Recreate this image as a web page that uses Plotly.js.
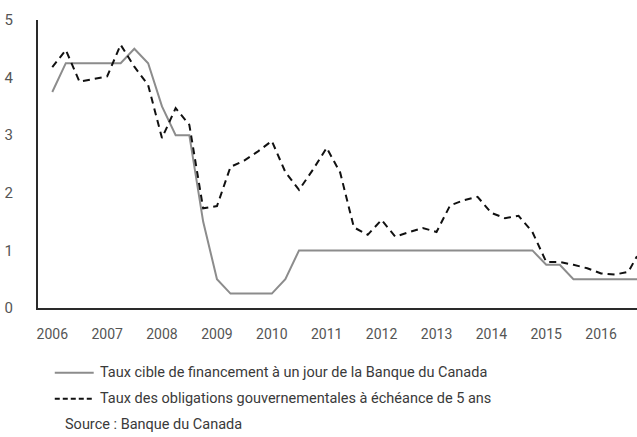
<!DOCTYPE html>
<html>
<head>
<meta charset="utf-8">
<script src="https://cdn.plot.ly/plotly-3.0.1.min.js"></script>
<style>
  html, body { margin: 0; padding: 0; background: #fff; }
  #chart { width: 637px; height: 437px; }
</style>
</head>
<body>
<div id="chart"></div>
<script>
/* global Plotly */

// quarterly observations, plus the last reading of the series
const dates = [
    '2006-01-01', '2006-04-01', '2006-07-01', '2006-10-01',
    '2007-01-01', '2007-04-01', '2007-07-01', '2007-10-01',
    '2008-01-01', '2008-04-01', '2008-07-01', '2008-10-01',
    '2009-01-01', '2009-04-01', '2009-07-01', '2009-10-01',
    '2010-01-01', '2010-04-01', '2010-07-01', '2010-10-01',
    '2011-01-01', '2011-04-01', '2011-07-01', '2011-10-01',
    '2012-01-01', '2012-04-01', '2012-07-01', '2012-10-01',
    '2013-01-01', '2013-04-01', '2013-07-01', '2013-10-01',
    '2014-01-01', '2014-04-01', '2014-07-01', '2014-10-01',
    '2015-01-01', '2015-04-01', '2015-07-01', '2015-10-01',
    '2016-01-01', '2016-04-01', '2016-07-01', '2016-08-27'
];

const tauxCible = [
    3.75, 4.25, 4.25, 4.25,
    4.25, 4.25, 4.5, 4.25,
    3.5, 3.0, 3.0, 1.5,
    0.5, 0.25, 0.25, 0.25,
    0.25, 0.5, 1.0, 1.0,
    1.0, 1.0, 1.0, 1.0,
    1.0, 1.0, 1.0, 1.0,
    1.0, 1.0, 1.0, 1.0,
    1.0, 1.0, 1.0, 1.0,
    0.75, 0.75, 0.5, 0.5,
    0.5, 0.5, 0.5, 0.5
];

const taux5ans = [
    4.18, 4.48, 3.93, 3.98,
    4.02, 4.57, 4.19, 3.87,
    2.95, 3.47, 3.18, 1.73,
    1.77, 2.45, 2.56, 2.72,
    2.9, 2.36, 2.05, 2.4,
    2.78, 2.35, 1.4, 1.27,
    1.53, 1.24, 1.32, 1.39,
    1.32, 1.78, 1.87, 1.93,
    1.65, 1.56, 1.6, 1.32,
    0.8, 0.8, 0.75, 0.69,
    0.6, 0.58, 0.63, 0.9
];

const seriesNames = [
    'Taux cible de financement à un jour de la Banque du Canada',
    'Taux des obligations gouvernementales à échéance de 5 ans'
];
const sourceText = 'Source : Banque du Canada';

const FONT = 'Roboto, "Open Sans", sans-serif';
const TICK_COLOR = '#555555';
const NOTE_COLOR = '#3a3a3a';
const SOLID_STYLE = { color: '#8c8c8c', width: 2 };

const data = [
    {
        x: dates,
        y: tauxCible,
        name: seriesNames[0],
        type: 'scatter',
        mode: 'lines',
        line: SOLID_STYLE
    },
    {
        x: dates,
        y: taux5ans,
        name: seriesNames[1],
        type: 'scatter',
        mode: 'lines',
        line: { color: '#111111', width: 2, dash: '7px,5px' }
    }
];

// legend drawn by hand under the plot (paper coords)
const legendRows = [-0.225, -0.315];
const shapes = legendRows.map((y, i) => ({
    type: 'line',
    xref: 'paper',
    yref: 'paper',
    x0: 0.028,
    x1: 0.093,
    y0: y,
    y1: y,
    line: i === 0 ? SOLID_STYLE : { color: '#111111', width: 2, dash: '5px,3px' }
}));

const annotations = legendRows.map((y, i) => ({
    xref: 'paper',
    yref: 'paper',
    x: 0.101,
    y,
    xanchor: 'left',
    yanchor: 'middle',
    showarrow: false,
    text: seriesNames[i],
    font: { family: FONT, size: 14.5, color: NOTE_COLOR }
}));

annotations.push({
    xref: 'paper',
    yref: 'paper',
    x: 0.041,
    y: -0.405,
    xanchor: 'left',
    yanchor: 'middle',
    showarrow: false,
    text: sourceText,
    font: { family: FONT, size: 14.5, color: NOTE_COLOR }
});

const layout = {
    width: 637,
    height: 437,
    margin: { l: 38, r: 0, t: 20, b: 129 },
    paper_bgcolor: '#ffffff',
    plot_bgcolor: '#ffffff',
    font: { family: FONT, size: 14, color: TICK_COLOR },
    showlegend: false,
    xaxis: {
        type: 'date',
        range: ['2005-09-28', '2016-08-27'],
        tick0: '2006-01-01',
        dtick: 'M12',
        tickformat: '%Y',
        ticks: 'outside',
        ticklen: 12,
        tickcolor: 'rgba(0,0,0,0)',
        showgrid: false,
        zeroline: false,
        showline: true,
        linecolor: '#2a2a2a',
        linewidth: 2,
        fixedrange: true,
        tickfont: { family: FONT, size: 14, color: TICK_COLOR }
    },
    yaxis: {
        range: [0, 5],
        dtick: 1,
        ticks: 'outside',
        ticklen: 20,
        tickcolor: 'rgba(0,0,0,0)',
        showgrid: false,
        zeroline: false,
        showline: true,
        linecolor: '#2a2a2a',
        linewidth: 2,
        fixedrange: true,
        tickfont: { family: FONT, size: 15, color: TICK_COLOR }
    },
    shapes,
    annotations
};

Plotly.newPlot('chart', data, layout, {
    displaylogo: false,
    displayModeBar: false,
    staticPlot: true
});
</script>
</body>
</html>
